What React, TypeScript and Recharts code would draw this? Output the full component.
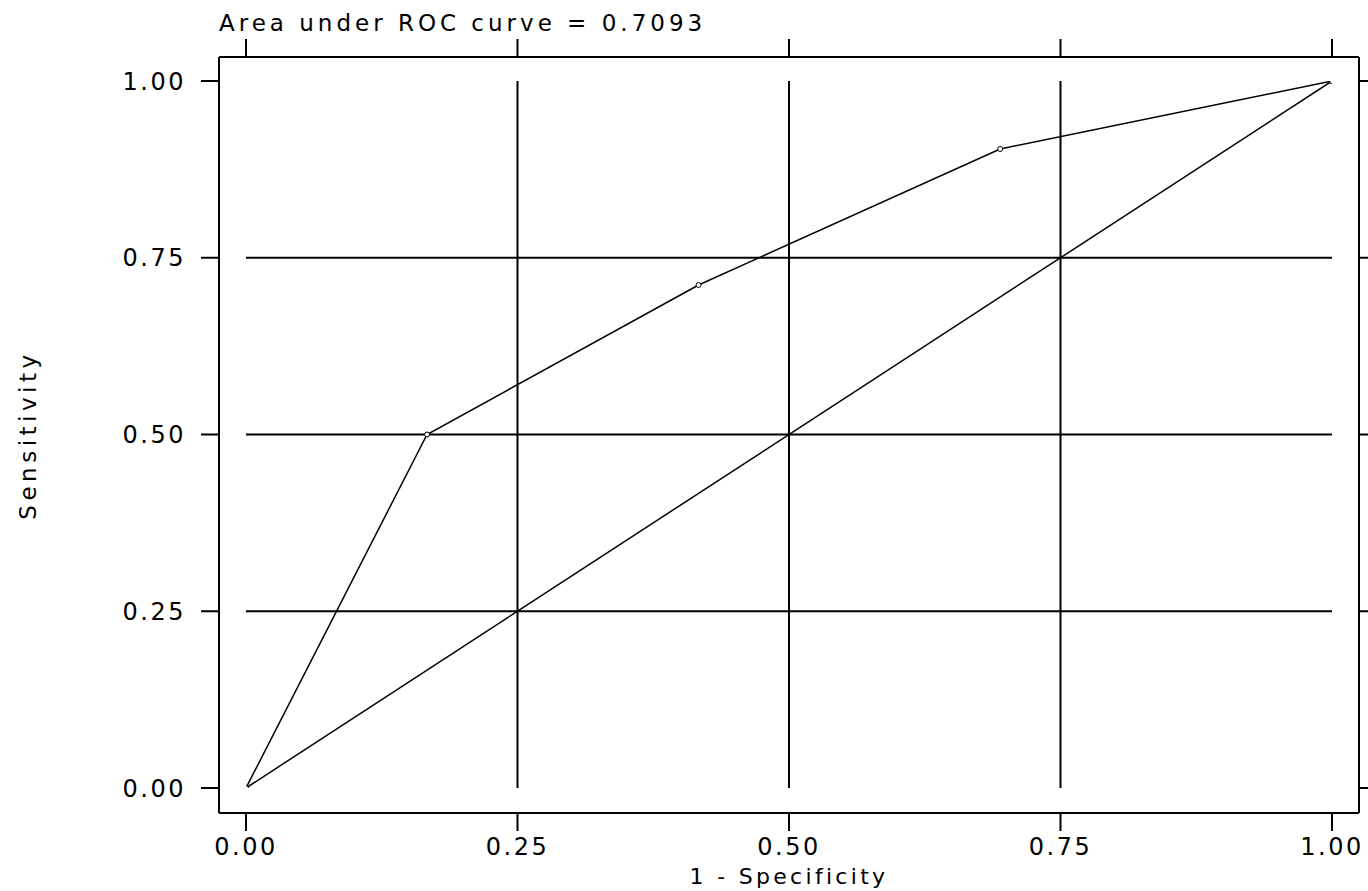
import { LineChart, Line, XAxis, YAxis, ReferenceLine } from "recharts";

// ROC points
const rocFpr = [0, 0.1667, 0.4167, 0.6944, 1];
const rocSens = [0, 0.5, 0.7115, 0.9038, 1];

// 45-degree reference line
const refFpr = [0, 1];
const refSens = [0, 1];

const axisTicks = [0, 0.25, 0.5, 0.75, 1];
const gridLevels = [0.25, 0.5, 0.75];

const aucText = "Area under ROC curve = 0.7093";
const xTitle = "1 - Specificity";
const yTitle = "Sensitivity";

const rocData = rocFpr.map((x, i) => ({ x, y: rocSens[i] }));
const refData = refFpr.map((x, i) => ({ x, y: refSens[i] }));

const INK = "#000";
const axisLine = { stroke: INK, strokeWidth: 2 };
const tickStyle = { fill: INK, fontSize: 24 };
const fmt = (v: number) => v.toFixed(2);
const blank = () => "";

const xPad = { left: 27, right: 27 };
const yPad = { top: 24, bottom: 25 };

const TopTitle = (props: any) => {
  const vb = props.viewBox;
  return (
    <text x={vb.x} y={vb.y + 31} fill={INK} fontSize={23} style={{ letterSpacing: "4px" }}>
      {aucText}
    </text>
  );
};

const BottomTitle = (props: any) => {
  const vb = props.viewBox;
  return (
    <text
      x={vb.x + vb.width / 2}
      y={vb.y + 71}
      fill={INK}
      fontSize={22}
      textAnchor="middle"
      style={{ letterSpacing: "3.3px" }}
    >
      {xTitle}
    </text>
  );
};

const LeftTitle = (props: any) => {
  const vb = props.viewBox;
  const cx = vb.x + 36;
  const cy = vb.y + vb.height / 2;
  return (
    <text
      transform={`translate(${cx}, ${cy}) rotate(-90)`}
      fill={INK}
      fontSize={23}
      textAnchor="middle"
      style={{ letterSpacing: "4.5px" }}
    >
      {yTitle}
    </text>
  );
};

export default function App() {
  return (
    <div
      style={{
        position: "absolute",
        left: 0,
        top: 0,
        width: 1368,
        height: 891,
        overflow: "hidden",
        background: "#fff",
        fontFamily: "'DejaVu Sans', sans-serif",
        letterSpacing: "2.5px",
      }}
    >
      <LineChart width={1368} height={891} margin={{ top: 0, right: 0, bottom: 0, left: 0 }}>
        <XAxis
          type="number"
          dataKey="x"
          domain={[0, 1]}
          ticks={axisTicks}
          tickFormatter={fmt}
          allowDataOverflow
          padding={xPad}
          height={78}
          tickSize={18}
          tickMargin={7}
          axisLine={axisLine}
          tickLine={axisLine}
          tick={tickStyle}
          label={BottomTitle}
        />
        <XAxis
          xAxisId="top"
          orientation="top"
          type="number"
          dataKey="x"
          domain={[0, 1]}
          ticks={axisTicks}
          tickFormatter={blank}
          allowDataOverflow
          padding={xPad}
          height={57}
          tickSize={18}
          axisLine={axisLine}
          tickLine={axisLine}
          tick={tickStyle}
          label={TopTitle}
        />
        <YAxis
          type="number"
          domain={[0, 1]}
          ticks={axisTicks}
          tickFormatter={fmt}
          allowDataOverflow
          padding={yPad}
          width={219}
          tickSize={18}
          tickMargin={15}
          axisLine={axisLine}
          tickLine={axisLine}
          tick={tickStyle}
          label={LeftTitle}
        />
        <YAxis
          yAxisId="right"
          orientation="right"
          type="number"
          domain={[0, 1]}
          ticks={axisTicks}
          tickFormatter={blank}
          allowDataOverflow
          padding={yPad}
          width={9}
          tickSize={18}
          axisLine={axisLine}
          tickLine={axisLine}
          tick={tickStyle}
        />
        {gridLevels.map((v) => (
          <ReferenceLine
            key={`h${v}`}
            segment={[{ x: 0, y: v }, { x: 1, y: v }]}
            stroke={INK}
            strokeWidth={2}
          />
        ))}
        {gridLevels.map((v) => (
          <ReferenceLine
            key={`v${v}`}
            segment={[{ x: v, y: 0 }, { x: v, y: 1 }]}
            stroke={INK}
            strokeWidth={2}
          />
        ))}
        <Line
          data={refData}
          dataKey="y"
          xAxisId="top"
          yAxisId="right"
          stroke={INK}
          strokeWidth={1.5}
          dot={false}
          isAnimationActive={false}
        />
        <Line
          data={rocData}
          dataKey="y"
          stroke={INK}
          strokeWidth={1.5}
          dot={{ r: 2.5, fill: "#fff", stroke: INK, strokeWidth: 1 }}
          isAnimationActive={false}
        />
      </LineChart>
    </div>
  );
}
